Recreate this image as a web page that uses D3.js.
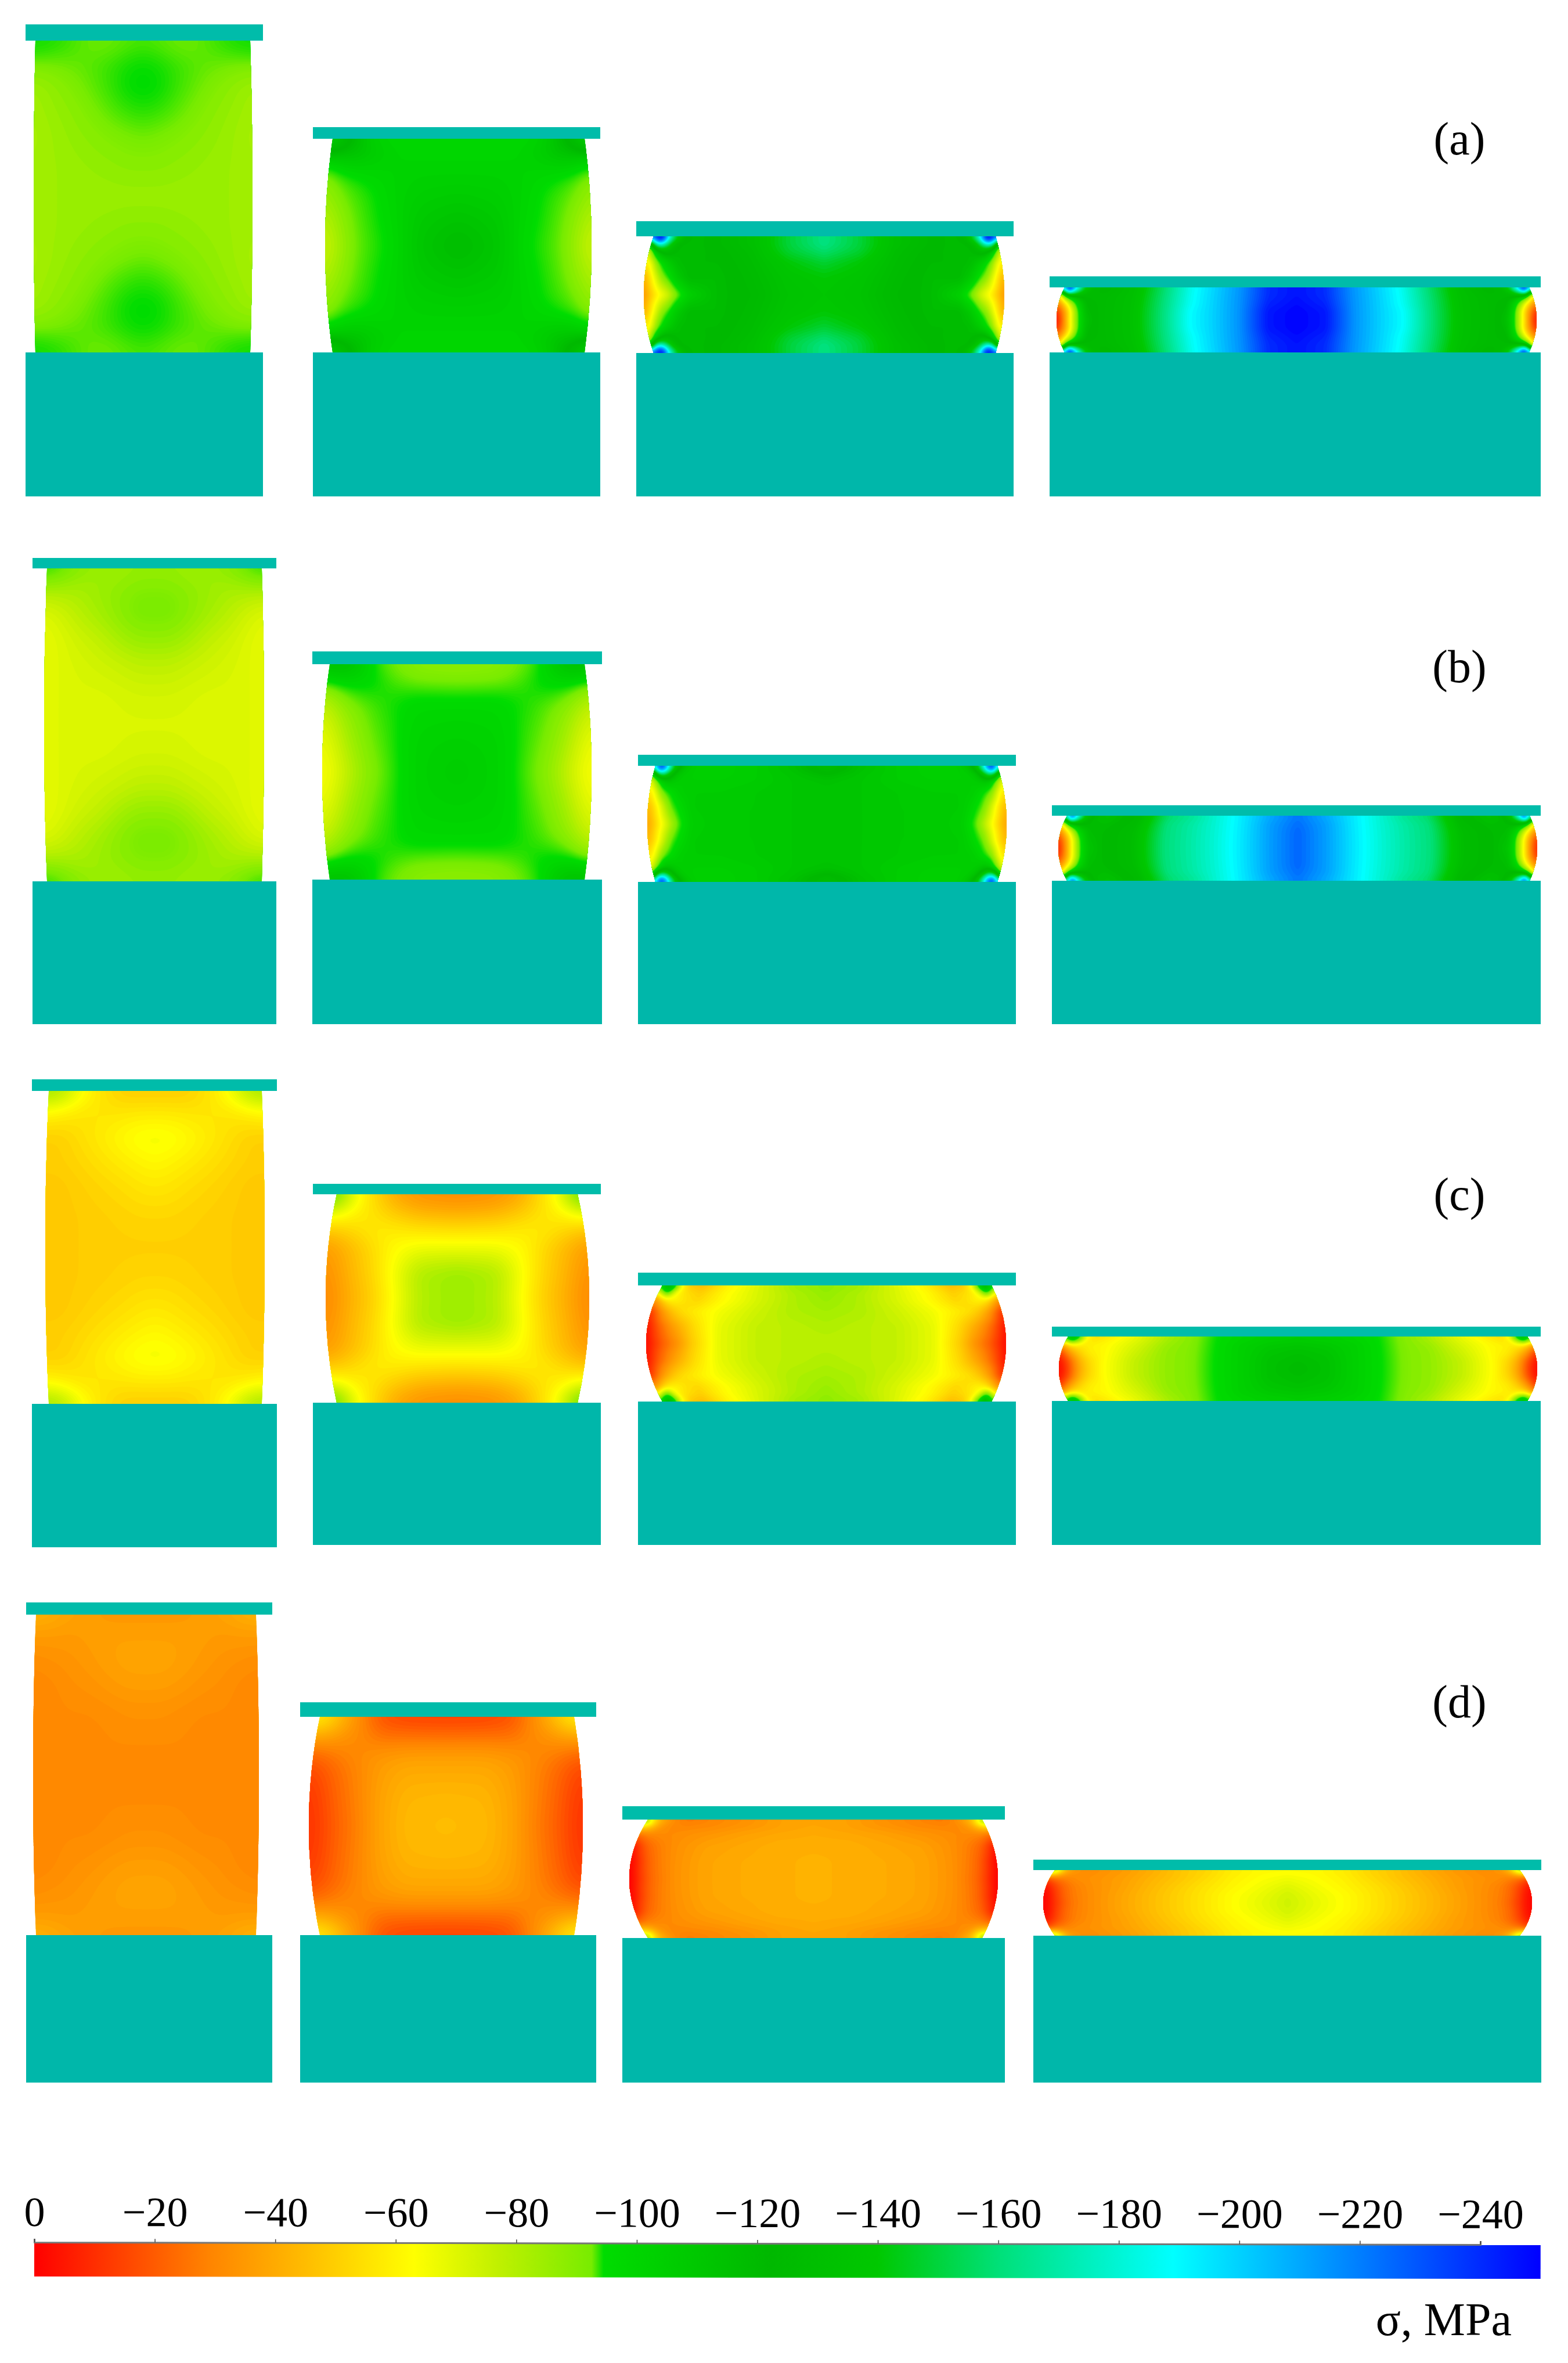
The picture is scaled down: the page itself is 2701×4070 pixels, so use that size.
<!DOCTYPE html>
<html>
<head>
<meta charset="utf-8">
<style>
  html, body { margin: 0; background: #fff; }
  text { font-family: "Liberation Serif", serif; fill: #000; }
</style>
<script src="https://unpkg.com/d3@7/dist/d3.min.js"></script>
</head>
<body>
<div class="container"></div>
<script>
const w = 2701;
const h = 4070;

const rowLabels = ['(a)', '(b)', '(c)', '(d)'];
const rowLabelY = [26.6, 117.5, 208.4, 295.8];
const rowLabelX = 251.4;

// specimen outlines, model units, four per row: a1..a4, b1..b4, c1..c4, d1..d4
const plateLeft = [4.4, 53.9, 109.6, 180.8, 5.6, 53.8, 109.9, 181.2, 5.5, 53.9, 109.9, 181.2, 4.5, 51.7, 107.2, 178.0];
const plateRight = [45.3, 103.4, 174.6, 265.4, 47.6, 103.7, 175.0, 265.4, 47.7, 103.5, 175.0, 265.4, 46.9, 102.7, 173.1, 265.5];
const plateTop = [4.2, 21.9, 38.1, 47.6, 96.1, 112.2, 130.0, 138.7, 185.9, 203.9, 219.2, 228.5, 276.0, 293.2, 311.1, 320.3];
const bodyTop = [7.0, 23.9, 40.7, 49.5, 97.9, 114.4, 131.9, 140.5, 187.9, 205.7, 221.4, 230.2, 278.1, 295.7, 313.4, 322.1];
const neckLeft = [6.1, 57.3, 112.6, 183.4, 8.1, 56.8, 112.9, 183.8, 8.4, 58.0, 114.1, 184.0, 6.2, 55.1, 111.6, 181.7];
const neckRight = [43.1, 100.7, 171.5, 263.4, 45.1, 100.7, 171.8, 263.5, 45.1, 99.5, 170.8, 263.1, 44.1, 98.9, 169.2, 261.8];
const bulgeLeft = [5.8, 56.0, 110.9, 182.0, 7.6, 55.5, 111.5, 182.3, 7.8, 56.1, 111.3, 182.4, 5.7, 53.2, 108.4, 179.7];
const bulgeRight = [43.5, 101.9, 173.0, 264.7, 45.5, 101.9, 173.4, 264.8, 45.6, 101.5, 173.3, 264.8, 44.6, 100.4, 171.9, 263.9];
const baseTop = [60.7, 60.7, 60.8, 60.7, 151.8, 151.5, 151.9, 151.7, 241.8, 241.6, 241.4, 241.3, 333.3, 333.3, 333.8, 333.4];
const baseBottom = [85.5, 85.5, 85.5, 85.5, 176.4, 176.4, 176.4, 176.4, 266.5, 266.1, 266.1, 266.1, 358.7, 358.7, 358.7, 358.7];

// where the readings were taken: share of half width from the curved side, share of half height from the plate
const acrossKnots = [
  [0, .12, .3, .5, .7, .85, 1],
  [0, .08, .2, .35, .5, .7, 1],
  [0, .03, .06, .09, .13, .18, .25, .4, .6, .8, 1],
  [0, .024, .053, .085, .12, .18, .31, .44, .555, .65, .76, .88, 1]
];
const downKnots = [
  [0, .06, .15, .3, .45, .6, .8, 1],
  [0, .08, .2, .35, .5, .75, 1],
  [0, .06, .13, .25, .45, .7, 1],
  [0, .1, .25, .5, .75, 1]
];

// stress readings in MPa for one quarter of each specimen, rows run plate to mid height
const stressA1 = [
  [-96, -96, -94, -91, -91, -92, -93],
  [-96, -95, -93, -91, -91, -93, -94],
  [-90, -90, -91, -92, -94, -96, -97],
  [-83, -85, -88, -91, -94, -97, -98],
  [-82, -84, -86, -89, -92, -94, -95],
  [-81, -83, -85, -87, -89, -90, -91],
  [-82, -83, -84, -85, -86, -87, -87],
  [-82, -83, -84, -84, -84, -84, -84]
];
const stressA2 = [
  [-150, -135, -115, -100, -100, -100, -100],
  [-135, -120, -118, -108, -102, -100, -100],
  [-100, -108, -110, -105, -102, -102, -102],
  [-88, -93, -96, -100, -102, -104, -104],
  [-84, -90, -93, -96, -102, -106, -108],
  [-78, -84, -91, -95, -100, -110, -114],
  [-74, -80, -90, -94, -98, -112, -120]
];
const stressA3 = [
  [-230, -245, -245, -190, -150, -125, -118, -124, -132, -150, -162],
  [-180, -245, -240, -185, -145, -125, -118, -124, -132, -150, -162],
  [-110, -170, -185, -160, -130, -120, -118, -124, -132, -150, -162],
  [-72, -105, -120, -130, -125, -118, -118, -122, -130, -148, -158],
  [-58, -70, -90, -100, -110, -118, -120, -120, -128, -140, -148],
  [-42, -55, -70, -85, -95, -110, -120, -118, -126, -136, -140],
  [-35, -45, -55, -63, -72, -88, -105, -118, -124, -134, -138]
];
const stressA4 = [
  [-210, -250, -195, -150, -128, -122, -132, -160, -187, -200, -215, -240, -246],
  [-130, -235, -180, -140, -125, -122, -132, -160, -187, -200, -215, -240, -246],
  [-60, -105, -122, -125, -125, -125, -132, -160, -187, -200, -215, -240, -246],
  [-30, -50, -78, -105, -122, -125, -132, -160, -187, -200, -215, -242, -248],
  [-10, -28, -58, -92, -118, -125, -132, -160, -189, -200, -215, -245, -250],
  [-5, -22, -58, -90, -115, -125, -132, -160, -189, -200, -215, -245, -250]
];
const stressB1 = [
  [-94, -93, -88, -84, -84, -85, -85],
  [-92, -90, -84, -83, -84, -86, -86],
  [-80, -80, -81, -84, -87, -89, -89],
  [-70, -73, -78, -82, -87, -90, -90],
  [-68, -70, -74, -77, -82, -85, -85],
  [-68, -70, -72, -74, -76, -78, -78],
  [-69, -70, -71, -71, -72, -73, -73],
  [-70, -70, -70, -70, -71, -71, -71]
];
const stressB2 = [
  [-115, -118, -112, -95, -90, -88, -87],
  [-108, -112, -108, -97, -91, -87, -87],
  [-88, -93, -97, -98, -94, -92, -91],
  [-78, -84, -90, -93, -96, -99, -99],
  [-72, -78, -86, -92, -95, -101, -102],
  [-66, -72, -82, -90, -94, -103, -105],
  [-63, -68, -78, -88, -93, -103, -108]
];
const stressB3 = [
  [-190, -240, -220, -170, -130, -112, -105, -105, -108, -115, -128],
  [-150, -235, -215, -165, -125, -110, -105, -105, -108, -115, -128],
  [-100, -150, -165, -140, -115, -108, -105, -105, -108, -113, -122],
  [-68, -92, -108, -115, -110, -106, -106, -106, -108, -112, -115],
  [-56, -66, -85, -94, -100, -106, -108, -108, -110, -112, -113],
  [-44, -52, -64, -78, -92, -100, -108, -110, -110, -112, -113],
  [-38, -46, -56, -66, -80, -94, -106, -110, -110, -112, -113]
];
const stressB4 = [
  [-180, -240, -180, -140, -120, -115, -125, -158, -168, -180, -194, -210, -222],
  [-120, -215, -165, -130, -118, -115, -125, -158, -168, -180, -194, -210, -222],
  [-60, -100, -120, -122, -120, -118, -126, -160, -170, -180, -194, -212, -224],
  [-30, -50, -78, -105, -118, -120, -128, -160, -170, -180, -194, -212, -226],
  [-12, -30, -60, -92, -115, -120, -128, -160, -170, -180, -194, -212, -226],
  [-8, -25, -58, -90, -112, -120, -128, -160, -170, -180, -194, -212, -226]
];
const stressC1 = [
  [-85, -82, -66, -55, -50, -50, -50],
  [-75, -72, -62, -56, -52, -52, -52],
  [-60, -58, -56, -56, -57, -58, -58],
  [-50, -50, -54, -58, -62, -65, -66],
  [-50, -50, -52, -55, -58, -60, -62],
  [-48, -48, -50, -52, -54, -56, -57],
  [-48, -48, -49, -50, -51, -52, -52],
  [-48, -48, -49, -50, -50, -50, -50]
];
const stressC2 = [
  [-95, -80, -62, -50, -38, -33, -32],
  [-88, -76, -62, -52, -42, -35, -33],
  [-65, -62, -58, -55, -50, -45, -43],
  [-48, -50, -54, -58, -58, -56, -55],
  [-36, -40, -46, -54, -62, -66, -66],
  [-32, -36, -44, -52, -64, -80, -84],
  [-30, -34, -42, -50, -62, -79, -84]
];
const stressC3 = [
  [-100, -118, -118, -95, -60, -48, -45, -60, -72, -82, -86],
  [-85, -115, -112, -85, -60, -50, -47, -60, -72, -82, -86],
  [-60, -85, -95, -70, -58, -54, -50, -62, -72, -80, -85],
  [-35, -45, -55, -60, -60, -55, -52, -62, -72, -80, -84],
  [-12, -22, -32, -40, -48, -54, -58, -66, -74, -80, -82],
  [-5, -12, -20, -26, -34, -42, -52, -68, -76, -78, -80],
  [-2, -8, -14, -20, -26, -34, -48, -68, -76, -78, -78]
];
const stressC4 = [
  [-100, -118, -100, -65, -55, -58, -70, -82, -89, -97, -102, -106, -108],
  [-90, -115, -90, -60, -55, -60, -70, -82, -89, -97, -102, -106, -108],
  [-40, -55, -60, -58, -60, -62, -72, -84, -89, -97, -105, -110, -112],
  [-14, -28, -42, -52, -58, -62, -74, -85, -89, -97, -105, -113, -116],
  [-4, -12, -26, -42, -52, -62, -76, -85, -89, -97, -105, -115, -118],
  [-2, -8, -22, -38, -50, -62, -76, -85, -89, -97, -105, -115, -120]
];
const stressD1 = [
  [-44, -42, -38, -36, -34, -34, -34],
  [-38, -38, -36, -36, -36, -36, -36],
  [-35, -35, -35, -36, -37, -37, -37],
  [-31, -32, -33, -35, -37, -38, -38],
  [-30, -30, -32, -33, -35, -36, -36],
  [-30, -30, -31, -31, -32, -33, -33],
  [-30, -30, -30, -30, -31, -31, -31],
  [-30, -30, -30, -30, -30, -30, -30]
];
const stressD2 = [
  [-60, -55, -42, -28, -17, -14, -14],
  [-52, -48, -38, -30, -20, -18, -17],
  [-36, -36, -33, -30, -26, -26, -26],
  [-22, -24, -28, -31, -34, -36, -36],
  [-15, -18, -24, -30, -36, -40, -40],
  [-11, -15, -22, -29, -37, -43, -44],
  [-10, -14, -21, -28, -37, -44, -45]
];
const stressD3 = [
  [-85, -60, -48, -40, -35, -30, -27, -30, -33, -37, -38],
  [-75, -66, -50, -40, -34, -30, -28, -30, -33, -37, -38],
  [-50, -48, -42, -36, -32, -30, -30, -31, -34, -37, -39],
  [-25, -28, -30, -30, -31, -31, -32, -34, -37, -39, -40],
  [-6, -14, -20, -24, -27, -30, -33, -37, -39, -41, -41],
  [-1, -7, -14, -20, -25, -29, -33, -38, -40, -41, -42],
  [0, -5, -12, -18, -24, -28, -33, -38, -40, -41, -42]
];
const stressD4 = [
  [-85, -65, -42, -35, -32, -32, -36, -42, -48, -52, -58, -62, -62],
  [-60, -50, -38, -33, -32, -32, -36, -42, -48, -52, -58, -62, -63],
  [-18, -25, -28, -30, -32, -33, -37, -43, -48, -53, -59, -63, -66],
  [-4, -10, -18, -24, -28, -32, -37, -44, -50, -55, -60, -65, -70],
  [-1, -5, -14, -22, -27, -31, -38, -45, -51, -56, -62, -67, -73],
  [-1, -4, -12, -20, -26, -31, -38, -45, -51, -56, -62, -68, -74]
];
const stressFields = [
  stressA1, stressA2, stressA3, stressA4,
  stressB1, stressB2, stressB3, stressB4,
  stressC1, stressC2, stressC3, stressC4,
  stressD1, stressD2, stressD3, stressD4
];

// colour bar
const legendTicks = [0, -20, -40, -60, -80, -100, -120, -140, -160, -180, -200, -220, -240];
const legendEnd = -250;
const stressStops = [0, -29, -46, -63, -77, -92.5, -94.5, -122, -140, -160, -189, -210, -250];
// the fields pass the lime to green step more softly than the bar does
const fieldStops = [0, -29, -46, -63, -77, -90, -97, -122, -140, -160, -189, -210, -250];
const stressColors = ['#ff0000', '#ff8400', '#ffc000', '#ffff00', '#c0f000', '#78ec00', '#00dc00', '#00b800', '#00c800', '#00e078', '#00ffff', '#00a8ff', '#0000ff'];
const unitLabel = 'σ, MPa';

const x = d3.scaleLinear().domain([0, 270.1]).range([0, w]);
const y = d3.scaleLinear().domain([0, 407]).range([0, h]);
const color = d3.scaleLinear().domain(stressStops).range(stressColors).clamp(true);
const fieldColor = d3.scaleLinear().domain(fieldStops).range(stressColors).clamp(true);
const legendX = d3.scaleLinear().domain([0, -240]).range([x(5.9), x(255)]);

const svg = d3.select('.container').append('svg')
    .attr('width', w)
    .attr('height', h)
    .style('display', 'block');

// value from the quarter readings, mirrored to the other three quarters
function lookup(grid, across, down, u, v) {
  const i = Math.max(1, Math.min(d3.bisectRight(across, u), across.length - 1));
  const j = Math.max(1, Math.min(d3.bisectRight(down, v), down.length - 1));
  const tu = (u - across[i - 1]) / (across[i] - across[i - 1]);
  const tv = (v - down[j - 1]) / (down[j] - down[j - 1]);
  const upper = grid[j - 1][i - 1] + (grid[j - 1][i] - grid[j - 1][i - 1]) * tu;
  const lower = grid[j][i - 1] + (grid[j][i] - grid[j][i - 1]) * tu;
  return upper + (lower - upper) * tv;
}

// finer levels round the jump in the colour map
const thresholds = d3.range(-256, -98, 2)
  .concat(d3.range(-98, -88, 0.5))
  .concat(d3.range(-88, 1, 1.5));

const step = 3;
const defs = svg.append('defs');

stressFields.forEach(function(grid, s) {
  const col = s % 4;
  const left = x(bulgeLeft[s]), right = x(bulgeRight[s]);
  const top = y(bodyTop[s]), bottom = y(baseTop[s]);
  const nl = x(neckLeft[s]), nr = x(neckRight[s]);
  const midX = (left + right) / 2, midY = (top + bottom) / 2;
  const nx = Math.ceil((right - left) / step) + 1;
  const ny = Math.ceil((bottom - top) / step) + 1;

  const values = new Float64Array(nx * ny);
  for (let j = 0; j < ny; j++) {
    const py = top + (bottom - top) * j / (ny - 1);
    const v = Math.max(0, Math.min(1, 1 - Math.abs(py - midY) / (midY - top)));
    // local side of the barrel at this height
    const edgeL = left + (nl - left) * (1 - v) * (1 - v);
    const edgeR = right + (nr - right) * (1 - v) * (1 - v);
    for (let i = 0; i < nx; i++) {
      const px = left + (right - left) * i / (nx - 1);
      const u = px < midX ? (px - edgeL) / (midX - edgeL) : (edgeR - px) / (edgeR - midX);
      values[j * nx + i] = lookup(grid, acrossKnots[col], downKnots[col], Math.max(0, Math.min(1, u)), v);
    }
  }
  d3.blur2({data: values, width: nx, height: ny}, col < 2 ? 4 : 0.7);

  const [lo, hi] = d3.extent(values);
  const levels = thresholds.filter((t, k) => t <= hi && (thresholds[k + 1] > lo));
  const contours = d3.contours().size([nx, ny]).thresholds(levels)(values);

  const fieldX = d3.scaleLinear().domain([0.5, nx - 0.5]).range([left, right]);
  const fieldY = d3.scaleLinear().domain([0.5, ny - 0.5]).range([top, bottom]);
  const path = d3.geoPath(d3.geoTransform({
    point: function(a, b) { this.stream.point(fieldX(a), fieldY(b)); }
  }));

  // barrelled outline, each side a parabola through the bulge
  const outline = d3.path();
  outline.moveTo(nl, top);
  outline.lineTo(nr, top);
  outline.quadraticCurveTo(2 * right - nr, midY, nr, bottom);
  outline.lineTo(nl, bottom);
  outline.quadraticCurveTo(2 * left - nl, midY, nl, top);
  outline.closePath();

  defs.append('clipPath')
      .attr('id', 'body' + s)
    .append('path')
      .attr('d', outline.toString());

  svg.append('g')
      .attr('clip-path', 'url(#body' + s + ')')
    .selectAll('path')
    .data(contours)
    .enter()
    .append('path')
      .attr('d', path)
      .attr('fill', (d, k) => fieldColor(k + 1 < contours.length ? (d.value + contours[k + 1].value) / 2 : d.value + 0.5));

  svg.append('rect')
      .attr('x', x(plateLeft[s]))
      .attr('y', y(plateTop[s]))
      .attr('width', x(plateRight[s]) - x(plateLeft[s]))
      .attr('height', y(bodyTop[s]) - y(plateTop[s]))
      .attr('fill', '#00bcaa');

  svg.append('rect')
      .attr('x', x(plateLeft[s]))
      .attr('y', y(baseTop[s]))
      .attr('width', x(plateRight[s]) - x(plateLeft[s]))
      .attr('height', y(baseBottom[s]) - y(baseTop[s]))
      .attr('fill', '#00b7aa');
});

svg.selectAll('text.row')
  .data(rowLabels)
  .enter()
  .append('text')
    .attr('class', 'row')
    .attr('x', x(rowLabelX))
    .attr('y', (d, i) => y(rowLabelY[i]))
    .attr('text-anchor', 'middle')
    .style('font-size', '80px')
    .text(d => d);

// the bar sits very slightly tilted in the source figure
const legend = svg.append('g')
    .attr('transform', 'rotate(0.09,' + legendX(0) + ',3863)');

const gradient = defs.append('linearGradient')
    .attr('id', 'stressGradient');
gradient.selectAll('stop')
  .data(stressStops)
  .enter()
  .append('stop')
    .attr('offset', d => d / legendEnd)
    .attr('stop-color', d => color(d));

legend.append('rect')
    .attr('x', legendX(0))
    .attr('y', 3863)
    .attr('width', legendX(legendEnd) - legendX(0))
    .attr('height', 58)
    .attr('fill', 'url(#stressGradient)');

const axis = d3.axisTop(legendX)
    .tickValues(legendTicks)
    .tickSize(6)
    .tickPadding(22)
    .tickFormat(d => d === 0 ? '0' : '\u2212' + Math.abs(d));

const axisG = legend.append('g')
    .attr('transform', 'translate(0,3862)')
    .call(axis);
axisG.select('.domain').attr('stroke', '#777').attr('stroke-width', 3);
axisG.selectAll('.tick line').attr('stroke', '#444').attr('stroke-width', 1.5);
axisG.selectAll('.tick text')
    .style('font-family', '"Liberation Serif", serif')
    .style('font-size', '72px')
    .attr('fill', '#000');

svg.append('text')
    .attr('x', 2604)
    .attr('y', 4022)
    .attr('text-anchor', 'end')
    .style('font-size', '80px')
    .text(unitLabel);
</script>
</body>
</html>
